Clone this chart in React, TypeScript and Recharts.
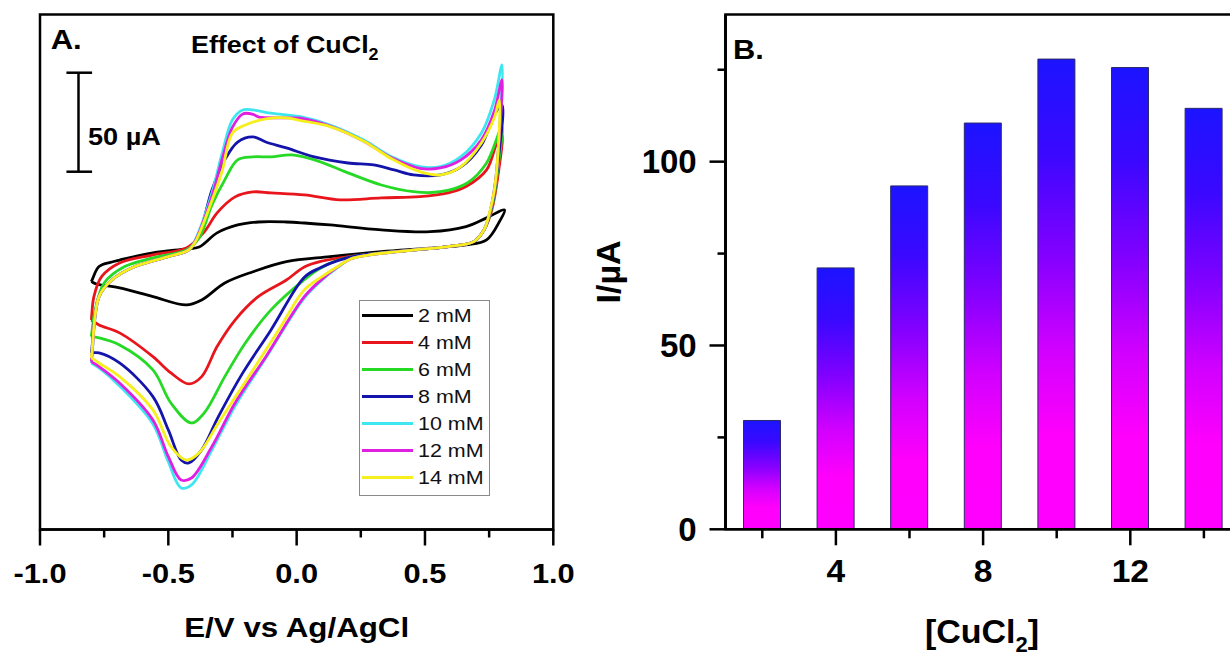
import React from 'react';
import { LineChart, Line, XAxis, YAxis, ReferenceArea, ReferenceLine, BarChart, Bar } from 'recharts';

const FONT = "'Liberation Sans', Arial, Helvetica, sans-serif";

// ---------- Panel A: cyclic voltammograms (E in V, I in µA, arbitrary offset) ----------
const potentialTicks = [-1, -0.75, -0.5, -0.25, 0, 0.25, 0.5, 0.75, 1];
const potentialMajorTicks = [-1, -0.5, 0, 0.5, 1];
const potentialDomain: [number, number] = [-1, 1];
const currentDomainA: [number, number] = [-141.2, 118.9];

const cv2mM: [number, number][] = [
  [-0.8, -16.0], [-0.77, -8.4], [-0.72, -6.1], [-0.69, -5.1], [-0.56, -1.5], [-0.43, 0.5], [-0.38, 1.5],
  [-0.31, 8.6], [-0.23, 12.6], [-0.15, 14.1], [-0.04, 14.1], [0.03, 13.6], [0.13, 12.6], [0.33, 10.1],
  [0.52, 9.2], [0.66, 11.8], [0.74, 16.2], [0.81, 20.2], [0.79, 14.3], [0.74, 5.1], [0.66, 2.5], [0.52, 0.9],
  [0.33, -0.9], [0.13, -3.4], [-0.04, -5.9], [-0.17, -11.0], [-0.28, -16.7], [-0.37, -25.3], [-0.43, -27.8],
  [-0.56, -23.6], [-0.69, -19.2], [-0.78, -17.2], [-0.8, -16.0],
];
const cv4mM: [number, number][] = [
  [-0.8, -35.4], [-0.79, -23.6], [-0.76, -13.5], [-0.69, -6.6], [-0.56, -2.5], [-0.43, 1.0], [-0.36, 9.1],
  [-0.31, 18.7], [-0.24, 26.8], [-0.17, 29.3], [-0.1, 28.8], [0.03, 27.8], [0.17, 25.3], [0.33, 26.3],
  [0.48, 26.9], [0.59, 28.8], [0.66, 32.0], [0.74, 40.4], [0.78, 54.0], [0.8, 58.0], [0.785, 38.0],
  [0.76, 20.0], [0.73, 10.1], [0.69, 4.2], [0.59, 1.7], [0.46, 0], [0.33, -1.5], [0.2, -3.4], [0.1, -5.6],
  [0.03, -8.6], [-0.04, -15.2], [-0.15, -23.6], [-0.24, -35.4], [-0.31, -48.8], [-0.37, -64.0],
  [-0.42, -67.7], [-0.49, -62.1], [-0.56, -53.9], [-0.69, -41.9], [-0.77, -37.9], [-0.8, -35.4],
];
const cv6mM: [number, number][] = [
  [-0.8, -43.8], [-0.785, -30.3], [-0.75, -16.7], [-0.67, -8.4], [-0.56, -4.0], [-0.43, 0], [-0.38, 6.0],
  [-0.33, 22.7], [-0.28, 35.4], [-0.23, 45.5], [-0.17, 47.0], [-0.1, 47.0], [-0.02, 48.0], [0.07, 45.5],
  [0.2, 38.9], [0.33, 32.8], [0.455, 29.4], [0.56, 29.4], [0.665, 33.8], [0.74, 43.9], [0.8, 62.3],
  [0.785, 42.0], [0.76, 21.0], [0.73, 10.1], [0.69, 4.2], [0.59, 1.7], [0.46, 0], [0.33, -1.5], [0.22, -3.2],
  [0.15, -5.6], [0.09, -9.4], [0.03, -15.0], [-0.1, -30.3], [-0.2, -47.0], [-0.28, -64.0], [-0.36, -82.3],
  [-0.41, -87.4], [-0.49, -77.3], [-0.56, -60.6], [-0.69, -48.0], [-0.77, -44.4], [-0.8, -43.8],
];
const cv8mM: [number, number][] = [
  [-0.8, -52.0], [-0.77, -23.6], [-0.72, -15.2], [-0.63, -8.4], [-0.5, -3.4], [-0.42, 0], [-0.38, 8.0],
  [-0.33, 30.3], [-0.28, 45.5], [-0.23, 54.5], [-0.17, 57.1], [-0.12, 54.5], [-0.04, 51.5], [0.065, 47.1],
  [0.2, 43.9], [0.3, 42.9], [0.38, 40.4], [0.455, 37.9], [0.56, 37.9], [0.64, 41.9], [0.72, 53.0],
  [0.77, 68.2], [0.8, 73.2], [0.785, 45.0], [0.76, 22.0], [0.73, 10.1], [0.69, 4.2], [0.59, 1.7], [0.46, 0],
  [0.33, -1.5], [0.23, -3.0], [0.16, -5.4], [0.09, -9.1], [0.03, -13.8], [-0.1, -40.4], [-0.21, -62.1],
  [-0.305, -84.2], [-0.37, -101.0], [-0.42, -107.6], [-0.45, -106.1], [-0.5, -90.9], [-0.56, -74.1],
  [-0.69, -57.1], [-0.77, -52.0], [-0.8, -52.0],
];
const cv10mM: [number, number][] = [
  [-0.8, -57.1], [-0.77, -23.6], [-0.72, -15.2], [-0.63, -8.4], [-0.5, -3.4], [-0.42, 0], [-0.395, 5.1],
  [-0.33, 28.8], [-0.29, 49.0], [-0.25, 65.7], [-0.21, 70.7], [-0.17, 70.7], [-0.11, 69.2], [-0.04, 68.2],
  [0.015, 67.3], [0.13, 63.1], [0.26, 55.6], [0.37, 47.1], [0.48, 42.1], [0.56, 42.1], [0.64, 47.1],
  [0.72, 59.1], [0.77, 75.8], [0.8, 93.4], [0.79, 60.0], [0.775, 35.0], [0.755, 20.0], [0.73, 10.1],
  [0.69, 4.2], [0.59, 1.7], [0.46, 0], [0.36, -1.3], [0.28, -2.6], [0.21, -4.6], [0.16, -8.8],
  [0.1, -15.0], [0.03, -24.2], [-0.12, -54.5], [-0.24, -78.8], [-0.33, -101.0], [-0.41, -118.7],
  [-0.45, -120.2], [-0.5, -107.1], [-0.56, -87.9], [-0.69, -68.7], [-0.77, -59.6], [-0.8, -57.1],
];
const cv12mM: [number, number][] = [
  [-0.8, -56.4], [-0.77, -23.6], [-0.72, -15.2], [-0.63, -8.4], [-0.5, -3.4], [-0.42, 0], [-0.395, 4.5],
  [-0.33, 27.0], [-0.29, 46.0], [-0.25, 62.0], [-0.21, 68.7], [-0.17, 68.5], [-0.15, 67.2], [-0.04, 66.7],
  [0.015, 66.5], [0.13, 62.5], [0.26, 55.0], [0.37, 46.5], [0.48, 41.2], [0.56, 41.4], [0.64, 45.5],
  [0.72, 55.6], [0.77, 70.0], [0.8, 85.9], [0.79, 58.0], [0.775, 35.0], [0.755, 20.0], [0.73, 10.1],
  [0.69, 4.2], [0.59, 1.7], [0.46, 0], [0.36, -1.3], [0.28, -2.6], [0.21, -4.6], [0.16, -8.6],
  [0.1, -14.6], [0.03, -23.6], [-0.12, -53.9], [-0.24, -77.3], [-0.33, -99.3], [-0.41, -115.2],
  [-0.45, -116.2], [-0.5, -104.4], [-0.56, -85.9], [-0.69, -67.2], [-0.77, -58.9], [-0.8, -56.4],
];
const cv14mM: [number, number][] = [
  [-0.8, -54.5], [-0.77, -23.6], [-0.72, -15.2], [-0.63, -8.4], [-0.5, -3.4], [-0.42, 0], [-0.395, 4.0],
  [-0.33, 25.0], [-0.29, 40.0], [-0.25, 59.1], [-0.2, 63.1], [-0.12, 66.2], [-0.04, 66.7], [0.02, 65.2],
  [0.13, 62.3], [0.26, 55.0], [0.37, 46.0], [0.48, 39.5], [0.56, 37.9], [0.64, 42.1], [0.72, 54.0],
  [0.77, 66.7], [0.79, 75.8], [0.785, 50.0], [0.77, 30.0], [0.75, 18.0], [0.73, 10.1], [0.69, 4.2],
  [0.59, 1.7], [0.46, 0], [0.36, -1.3], [0.28, -2.6], [0.21, -4.6], [0.16, -8.4], [0.1, -13.4],
  [0.03, -20.2], [-0.07, -40.4], [-0.17, -60.6], [-0.305, -87.4], [-0.38, -102.5], [-0.43, -106.1],
  [-0.49, -99.3], [-0.56, -80.8], [-0.69, -64.0], [-0.77, -57.1], [-0.8, -54.5],
];

const seriesNames = ['2 mM', '4 mM', '6 mM', '8 mM', '10 mM', '12 mM', '14 mM'];
const seriesColors = ['#000000', '#e8161c', '#25d925', '#1414aa', '#3ee6f0', '#e020e0', '#f5ef1c'];
const seriesValues = [cv2mM, cv4mM, cv6mM, cv8mM, cv10mM, cv12mM, cv14mM];

// 50 µA scale bar (data units)
const scaleBarE = -0.85;
const scaleBarCapLeft = -0.897;
const scaleBarCapRight = -0.797;
const scaleBarLow = 39.5;
const scaleBarHigh = 89.5;

// ---------- Panel B: peak current vs concentration ----------
const concentrations = [2, 4, 6, 8, 10, 12, 14];
const peakCurrents = [29.6, 71.1, 93.4, 110.5, 127.9, 125.6, 114.5];
const concDomain: [number, number] = [1, 15];
const concLabelTicks = [4, 8, 12];
const currentTicksB = [0, 25, 50, 75, 100, 125];
const currentLabelTicksB = [0, 50, 100];
const currentDomainB: [number, number] = [0, 140];

const barData = concentrations.map((c, i) => ({ conc: c, I: peakCurrents[i] }));

// centripetal Catmull-Rom curve (passes through all points, handles loops)
const catmullRom = (context: any) => {
  let pts: number[][] = [];
  return {
    areaStart() {},
    areaEnd() {},
    lineStart() {
      pts = [];
    },
    point(x: number, y: number) {
      pts.push([+x, +y]);
    },
    lineEnd() {
      const n = pts.length;
      if (!n) return;
      context.moveTo(pts[0][0], pts[0][1]);
      for (let i = 0; i < n - 1; i++) {
        const p0 = pts[i === 0 ? 0 : i - 1];
        const p1 = pts[i];
        const p2 = pts[i + 1];
        const p3 = pts[i + 2 < n ? i + 2 : n - 1];
        const d01 = Math.hypot(p1[0] - p0[0], p1[1] - p0[1]);
        const d12 = Math.hypot(p2[0] - p1[0], p2[1] - p1[1]);
        const d23 = Math.hypot(p3[0] - p2[0], p3[1] - p2[1]);
        const a01 = Math.sqrt(d01);
        const a12 = Math.sqrt(d12);
        const a23 = Math.sqrt(d23);
        let c1x = p1[0] + (p2[0] - p1[0]) / 3;
        let c1y = p1[1] + (p2[1] - p1[1]) / 3;
        let c2x = p2[0] - (p2[0] - p1[0]) / 3;
        let c2y = p2[1] - (p2[1] - p1[1]) / 3;
        if (a01 > 1e-6 && a12 > 1e-6) {
          const A = 2 * d01 + 3 * a01 * a12 + d12;
          const N = 3 * a01 * (a01 + a12);
          c1x = (p1[0] * A - p0[0] * d12 + p2[0] * d01) / N;
          c1y = (p1[1] * A - p0[1] * d12 + p2[1] * d01) / N;
        }
        if (a23 > 1e-6 && a12 > 1e-6) {
          const B = 2 * d23 + 3 * a23 * a12 + d12;
          const M = 3 * a23 * (a23 + a12);
          c2x = (p2[0] * B + p1[0] * d23 - p3[0] * d12) / M;
          c2y = (p2[1] * B + p1[1] * d23 - p3[1] * d12) / M;
        }
        context.bezierCurveTo(c1x, c1y, c2x, c2y, p2[0], p2[1]);
      }
    },
  };
};

const PotentialTick = (props: any) => {
  const { x, y, payload } = props;
  const v = Number(payload.value);
  const major = potentialMajorTicks.some((m) => Math.abs(m - v) < 1e-9);
  return (
    <g>
      <line x1={x} x2={x} y1={y} y2={y + (major ? 16 : 8)} stroke="#000" strokeWidth={2.5} />
      {major && (
        <text
          transform={`translate(${x} ${y + 53}) scale(1.1 1)`}
          textAnchor="middle"
          fontFamily={FONT}
          fontWeight="bold"
          fontSize={28}
          fill="#000"
        >
          {v.toFixed(1)}
        </text>
      )}
    </g>
  );
};

const ConcTick = (props: any) => {
  const { x, y, payload } = props;
  const v = Number(payload.value);
  const major = concLabelTicks.includes(v);
  return (
    <g>
      <line x1={x} x2={x} y1={y} y2={y + (major ? 16 : 9)} stroke="#000" strokeWidth={2.5} />
      {major && (
        <text
          transform={`translate(${x} ${y + 52.4}) scale(1.05 1)`}
          textAnchor="middle"
          fontFamily={FONT}
          fontWeight="bold"
          fontSize={32}
          fill="#000"
        >
          {v}
        </text>
      )}
    </g>
  );
};

const CurrentTick = (props: any) => {
  const { x, y, payload } = props;
  const v = Number(payload.value);
  const major = currentLabelTicksB.includes(v);
  return (
    <g>
      <line x1={x} x2={x - (major ? 16 : 8)} y1={y} y2={y} stroke="#000" strokeWidth={2.5} />
      {major && (
        <text
          x={x - 28.8}
          y={y + 11.5}
          textAnchor="end"
          fontFamily={FONT}
          fontWeight="bold"
          fontSize={33}
          fill="#000"
        >
          {v}
        </text>
      )}
    </g>
  );
};

const axisLine = { stroke: '#000', strokeWidth: 2.5 };

export default function App() {
  return (
    <div
      style={{
        position: 'fixed',
        left: 0,
        top: 0,
        width: 1230,
        height: 656,
        overflow: 'hidden',
        background: '#fff',
        fontFamily: FONT,
      }}
    >
      {/* Panel A */}
      <div style={{ position: 'absolute', left: 0, top: 0 }}>
        <LineChart width={600} height={656} margin={{ top: 14.5, right: 46.7, bottom: 26.5, left: 40 }}>
          <XAxis
            type="number"
            dataKey="E"
            domain={potentialDomain}
            ticks={potentialTicks}
            interval={0}
            allowDataOverflow
            height={100}
            tickSize={0}
            tickMargin={0}
            tickLine={false}
            axisLine={axisLine}
            tick={(p: any) => <PotentialTick {...p} />}
          />
          <YAxis type="number" dataKey="I" domain={currentDomainA} allowDataOverflow hide width={0} />
          {seriesValues.map((vals, i) => (
            <Line
              key={seriesNames[i]}
              data={vals.map(([E, I]) => ({ E, I }))}
              dataKey="I"
              type={catmullRom as any}
              stroke={seriesColors[i]}
              strokeWidth={2.8}
              dot={false}
              activeDot={false}
              isAnimationActive={false}
            />
          ))}
          <ReferenceArea
            x1={potentialDomain[0]}
            x2={potentialDomain[1]}
            y1={currentDomainA[0]}
            y2={currentDomainA[1]}
            fill="none"
            fillOpacity={0}
            stroke="#000"
            strokeWidth={2.5}
            ifOverflow="visible"
          />
          <ReferenceLine
            segment={[
              { x: scaleBarE, y: scaleBarLow },
              { x: scaleBarE, y: scaleBarHigh },
            ]}
            stroke="#000"
            strokeWidth={2.5}
          />
          <ReferenceLine
            segment={[
              { x: scaleBarCapLeft, y: scaleBarHigh },
              { x: scaleBarCapRight, y: scaleBarHigh },
            ]}
            stroke="#000"
            strokeWidth={2.5}
          />
          <ReferenceLine
            segment={[
              { x: scaleBarCapLeft, y: scaleBarLow },
              { x: scaleBarCapRight, y: scaleBarLow },
            ]}
            stroke="#000"
            strokeWidth={2.5}
          />
        </LineChart>
      </div>

      {/* Panel A legend */}
      <div
        style={{
          position: 'absolute',
          left: 359,
          top: 300,
          width: 131,
          height: 196,
          boxSizing: 'border-box',
          border: '1px solid #8a8a8a',
          background: '#fff',
        }}
      >
        {seriesNames.map((name, i) => (
          <div
            key={name}
            style={{
              position: 'absolute',
              left: 0,
              top: 1.5 + i * 26.9,
              height: 26.9,
              width: 129,
              display: 'flex',
              alignItems: 'center',
            }}
          >
            <div style={{ marginLeft: 2, width: 51, height: 3, background: seriesColors[i] }} />
            <span
              style={{
                marginLeft: 5,
                fontSize: 19,
                lineHeight: '19px',
                color: '#111',
                display: 'inline-block',
                transform: 'scaleX(1.13)',
                transformOrigin: 'left center',
                whiteSpace: 'nowrap',
              }}
            >
              {name}
            </span>
          </div>
        ))}
      </div>

      {/* Panel B */}
      <div style={{ position: 'absolute', left: 590, top: 0 }}>
        <BarChart
          width={660}
          height={656}
          data={barData}
          margin={{ top: 14.6, right: 9.3, bottom: 26.7, left: 0 }}
          barSize={37}
        >
          <defs>
            <linearGradient id="barGrad" x1="0" y1="0" x2="0" y2="1">
              <stop offset="0" stopColor="#1c14ff" />
              <stop offset="0.2" stopColor="#3a08ff" />
              <stop offset="0.42" stopColor="#8400ff" />
              <stop offset="0.62" stopColor="#d200ff" />
              <stop offset="0.8" stopColor="#ff00fc" />
              <stop offset="1" stopColor="#ff00ff" />
            </linearGradient>
          </defs>
          <XAxis
            dataKey="conc"
            type="number"
            domain={concDomain}
            ticks={concentrations}
            allowDataOverflow
            height={100}
            interval={0}
            tickSize={0}
            tickMargin={0}
            tickLine={false}
            axisLine={axisLine}
            tick={(p: any) => <ConcTick {...p} />}
          />
          <YAxis
            type="number"
            domain={currentDomainB}
            ticks={currentTicksB}
            interval={0}
            allowDataOverflow
            width={135.5}
            tickSize={0}
            tickMargin={0}
            tickLine={false}
            axisLine={axisLine}
            tick={(p: any) => <CurrentTick {...p} />}
          />
          <Bar dataKey="I" fill="url(#barGrad)" stroke="#2a2a6a" strokeWidth={1} isAnimationActive={false} />
          <ReferenceArea
            x1={concDomain[0]}
            x2={concDomain[1]}
            y1={currentDomainB[0]}
            y2={currentDomainB[1]}
            fill="none"
            fillOpacity={0}
            stroke="#000"
            strokeWidth={2.5}
            ifOverflow="visible"
          />
          <ReferenceLine x={concDomain[0]} stroke="#000" strokeWidth={2.5} ifOverflow="visible" />
        </BarChart>
      </div>

      {/* Titles and annotations */}
      <svg
        width={1230}
        height={656}
        style={{ position: 'absolute', left: 0, top: 0, pointerEvents: 'none' }}
        fontFamily={FONT}
      >
        <text transform="translate(50.7 49.3) scale(1.15 1)" fontSize={27} fontWeight="bold" fill="#000">
          A.
        </text>
        <text transform="translate(191 52.5) scale(1.12 1)" fontSize={24} fontWeight="bold" fill="#000">
          Effect of CuCl
          <tspan fontSize={16} dy={7}>
            2
          </tspan>
        </text>
        <text transform="translate(88 145) scale(1.18 1)" fontSize={23} fontWeight="bold" fill="#000">
          50 µA
        </text>
        <text
          transform="translate(296.7 637) scale(1.16 1)"
          textAnchor="middle"
          fontSize={27}
          fontWeight="bold"
          fill="#000"
        >
          E/V vs Ag/AgCl
        </text>
        <text transform="translate(733 58.6) scale(1.1 1)" fontSize={28} fontWeight="bold" fill="#000">
          B.
        </text>
        <text
          transform="translate(620 272) rotate(-90)"
          textAnchor="middle"
          fontSize={34}
          fontWeight="bold"
          fill="#000"
        >
          I/µA
        </text>
        <text transform="translate(982 643)" textAnchor="middle" fontSize={34} fontWeight="bold" fill="#000">
          [CuCl
          <tspan fontSize={22} dy={9}>
            2
          </tspan>
          <tspan dy={-9}>]</tspan>
        </text>
      </svg>
    </div>
  );
}
